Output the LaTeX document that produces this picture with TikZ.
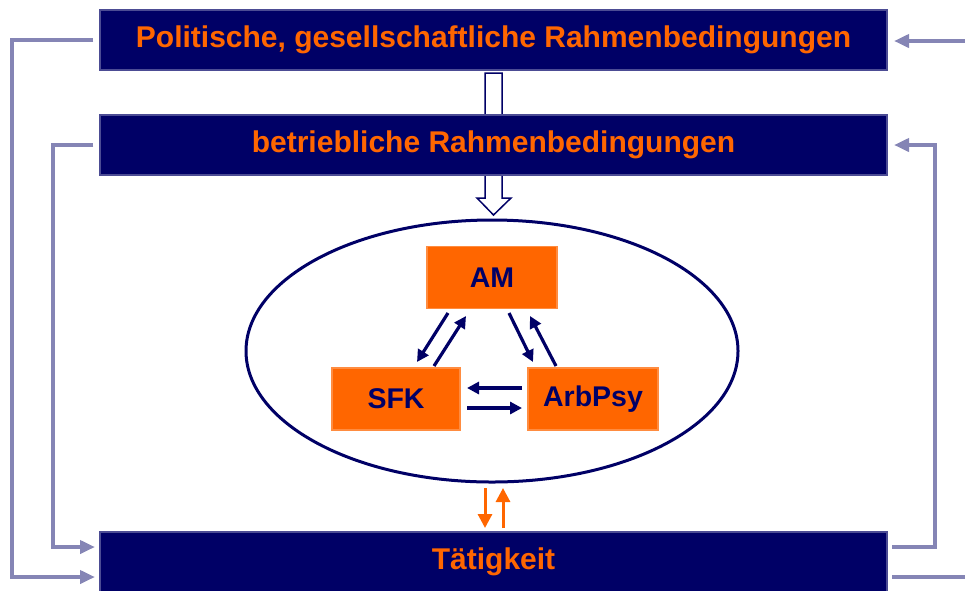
\documentclass[tikz,border=0pt]{standalone}
\usepackage{fontspec}
\setmainfont{Liberation Sans}
\usetikzlibrary{shapes.geometric,arrows.meta}
\definecolor{navy}{HTML}{000066}
\definecolor{orng}{HTML}{FF6600}
\definecolor{conn}{HTML}{8585B5}
\tikzset{
  bar/.style={fill=navy, draw=navy!70, line width=1.5pt, minimum width=787, minimum height=60, inner sep=0, text=orng, font=\bfseries\fontsize{30}{33}\selectfont},
  obox/.style={fill=orng, draw=orng!75, line width=1.5pt, minimum width=130, minimum height=62, inner sep=0, text=navy, font=\bfseries\fontsize{28.5}{31}\selectfont},
  fb/.style={draw=conn, line width=4pt},
  fbarrow/.style={fb, -{Triangle[length=15pt,width=13pt]}},
  inarrow/.style={draw=navy, line width=3.2pt, -{Triangle[length=12pt,width=12pt]}},
  oarrow/.style={draw=orng, line width=3pt, -{Triangle[length=14pt,width=14pt]}},
}
\begin{document}
\begin{tikzpicture}[x=1pt,y=-1pt]
\useasboundingbox (0,0) rectangle (965,590);
% hollow arrow (behind second bar)
\node[bar] (top) at (493.5,40) {Politische, gesellschaftliche Rahmenbedingungen};
\draw[navy, line width=1.5pt, fill=white] (485,73) -- (502,73) -- (502,198) -- (511,198) -- (493.5,215) -- (477,198) -- (485,198) -- cycle;
\node[bar] (mid) at (493.5,145) {betriebliche Rahmenbedingungen};
\node[bar, minimum height=60] (bot) at (493.5,562) {Tätigkeit};
% ellipse
\node[ellipse, draw=navy, line width=3pt, minimum width=492, minimum height=262, inner sep=0] (ell) at (492,351) {};
% orange boxes
\node[obox] (am) at (492,277.5) {AM};
\node[obox, minimum width=128] (sfk) at (396,399) {SFK};
\node[obox] (arb) at (593,399) {ArbPsy};
% inner arrows
\draw[inarrow] (448,313) -- (417,362);
\draw[inarrow] (434,366) -- (466,316);
\draw[inarrow] (509,313) -- (533,362);
\draw[inarrow] (556,366) -- (530,316);
\draw[inarrow] (522,388) -- (467,388);
\draw[inarrow] (467,408) -- (522,408);
% orange arrows
\draw[oarrow] (485,488) -- (485,528);
\draw[oarrow] (503,528) -- (503,488);
% feedback lines
\coordinate (l1) at (12,40);
\coordinate (l1b) at (12,577);
\coordinate (l2) at (53,145);
\coordinate (l2b) at (53,547);
\coordinate (r1) at (965,41);
\coordinate (r1b) at (965,577);
\coordinate (r2) at (935,145);
\coordinate (r2b) at (935,547);
\draw[fbarrow] ([xshift=-6pt]top.west) -- (l1) -- (l1b) -- (95,577);
\draw[fbarrow] ([xshift=-6pt]mid.west) -- (l2) -- (l2b) -- (95,547);
\draw[fbarrow] (r1) -- (894,41);
\draw[fbarrow] (892,547) -- (r2b) -- (r2) -- (894,145);
\draw[fb] (892,577) -- (r1b);
\end{tikzpicture}
\end{document}
